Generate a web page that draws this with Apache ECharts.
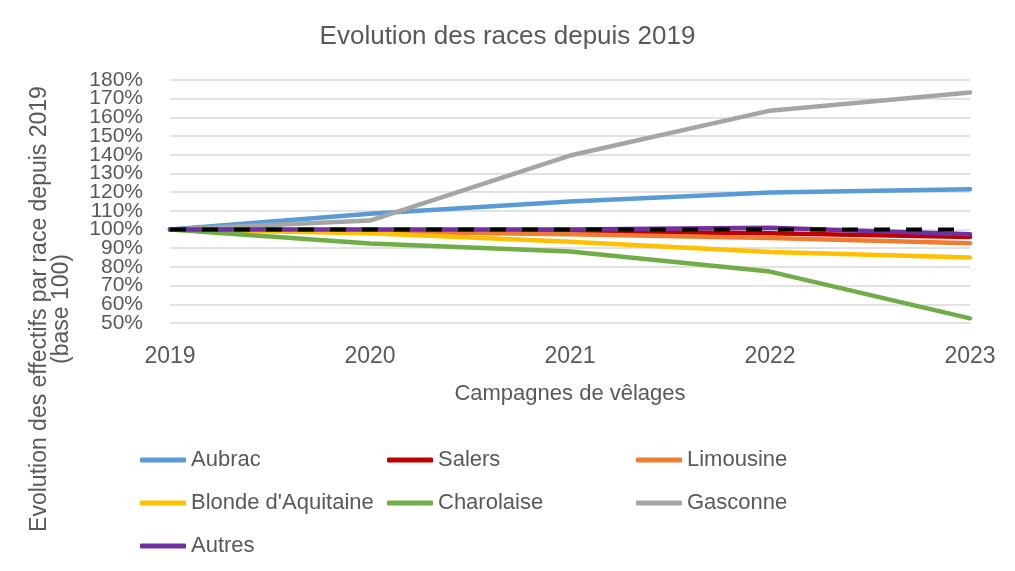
<!DOCTYPE html>
<html><head><meta charset="utf-8">
<script src="https://cdn.jsdelivr.net/npm/echarts@6/dist/echarts.min.js"></script>
<style>html,body{margin:0;padding:0;background:#fff}#c{width:1015px;height:571px}</style>
</head><body><div id="c"></div>
<script>
var years = ['2019','2020','2021','2022','2023'];
var aubrac = [100, 108.5, 115, 119.8, 121.5];
var salers = [100, 99.5, 99, 98, 96];
var limousine = [100, 99, 97.5, 95.5, 92.7];
var blonde = [100, 98, 93.5, 88, 85];
var charolaise = [100, 92.5, 88.2, 77.5, 52.5];
var gasconne = [100, 104.8, 139.6, 163.6, 173.3];
var autres = [100, 100, 100, 101, 97.5];
var base = [100, 100, 100, 100, 100];

var names = ['Aubrac','Salers','Limousine',"Blonde d'Aquitaine",'Charolaise','Gasconne','Autres'];
var colors = ['#5B9BD5','#C00000','#ED7D31','#FFC000','#70AD47','#A5A5A5','#7030A0'];
var values = [aubrac, salers, limousine, blonde, charolaise, gasconne, autres];

var font = 'Liberation Sans';
var grey = '#595959';
var series = names.map(function(n, i){
  return {name:n, type:'line', data:values[i], symbol:'none', smooth:false, yAxisIndex:0,
    lineStyle:{width:4.5, color:colors[i], cap:'round'}, itemStyle:{color:colors[i]}, z:2+i};
});
series.push({name:'Base', type:'line', data:base, symbol:'none', yAxisIndex:0,
  lineStyle:{width:4, color:'#000', type:[16,16]}, z:8});

function leg(data, left){
  return {data:data, orient:'vertical', left:left, top:444, itemWidth:46, itemHeight:5, itemGap:21,
    icon:'roundRect', textStyle:{fontFamily:font, fontSize:22, lineHeight:22, color:grey}, selectedMode:false};
}
function yax(parity, grid){
  return {type:'value', min:50, max:180, interval:10, position:'left',
    axisLine:{show:false}, axisTick:{show:false},
    splitLine:{show:grid, lineStyle:{color:'#D9D9D9', width:1.5}},
    axisLabel:{fontFamily:font, fontSize:21, color:grey, margin:27, hideOverlap:false,
      showMinLabel:true, showMaxLabel:true,
      formatter:function(v){ return (Math.round(v) % 20 === parity) ? v + '%' : ''; }}};
}

var chart = echarts.init(document.getElementById('c'));
chart.setOption({
  animation:false,
  color:colors,
  title:{text:'Evolution des races depuis 2019', left:'center', top:19,
    textStyle:{fontFamily:font, fontSize:26, fontWeight:'normal', color:grey}},
  grid:{left:170, right:45, top:80, bottom:248, containLabel:false},
  xAxis:{type:'category', data:years, boundaryGap:false,
    axisLine:{show:false}, axisTick:{show:false},
    axisLabel:{fontFamily:font, fontSize:23, color:grey, margin:22},
    name:'Campagnes de vêlages', nameLocation:'middle', nameGap:60,
    nameTextStyle:{fontFamily:font, fontSize:22, color:grey}},
  yAxis:[yax(10, true), yax(0, false)],
  legend:[
    leg(['Aubrac',"Blonde d'Aquitaine",'Autres'], 135),
    leg(['Salers','Charolaise'], 382),
    leg(['Limousine','Gasconne'], 631)
  ],
  graphic:[{type:'text', x:51, y:309, rotation:Math.PI/2,
    style:{text:'Evolution des effectifs par race depuis 2019\n(base 100)', font:'23px "Liberation Sans"',
      fill:grey, textAlign:'center', textVerticalAlign:'middle', lineHeight:22}}],
  series:series
});
</script></body></html>
